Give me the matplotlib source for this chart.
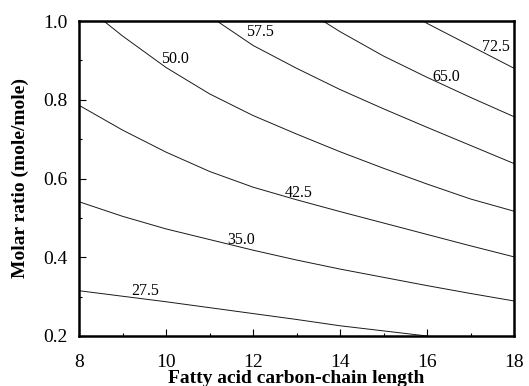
import matplotlib
matplotlib.use("Agg")
import matplotlib.pyplot as plt
from matplotlib.ticker import MultipleLocator

plt.rcParams['font.family'] = ['Liberation Serif', 'DejaVu Serif']

# Contour lines (x = carbon-chain length, y = molar ratio)
levels = ["27.5", "35.0", "42.5", "50.0", "57.5", "65.0", "72.5"]

line_2750_x = [8, 9, 10, 11, 12, 13, 14, 15, 16]
line_2750_y = [0.315, 0.301, 0.287, 0.272, 0.257, 0.242, 0.226, 0.213, 0.200]

line_3500_x = [8, 9, 10, 11, 12, 13, 14, 15, 16, 17, 18]
line_3500_y = [0.541, 0.504, 0.472, 0.445, 0.418, 0.393, 0.370, 0.349, 0.328, 0.308, 0.289]

line_4250_x = [8, 9, 10, 11, 12, 13, 14, 15, 16, 17, 18]
line_4250_y = [0.786, 0.723, 0.667, 0.618, 0.578, 0.546, 0.516, 0.487, 0.458, 0.429, 0.401]

line_5000_x = [8.57, 9, 10, 11, 12, 13, 14, 15, 16, 17, 18]
line_5000_y = [1.0, 0.962, 0.882, 0.815, 0.760, 0.713, 0.668, 0.626, 0.586, 0.548, 0.517]

line_5750_x = [11.17, 12, 13, 14, 15, 16, 17, 18]
line_5750_y = [1.0, 0.938, 0.880, 0.826, 0.777, 0.730, 0.684, 0.638]

line_6500_x = [13.61, 14, 15, 16, 17, 18]
line_6500_y = [1.0, 0.973, 0.911, 0.857, 0.806, 0.757]

line_7250_x = [15.91, 16, 17, 18]
line_7250_y = [1.0, 0.994, 0.937, 0.880]

# Label anchor positions (data coords)
label_x = [9.53, 11.72, 13.04, 10.21, 12.15, 16.45, 17.59]
label_y = [0.314, 0.445, 0.564, 0.904, 0.972, 0.859, 0.933]

x_ticks = [8, 10, 12, 14, 16, 18]
y_ticks = [0.2, 0.4, 0.6, 0.8, 1.0]

fig = plt.figure(figsize=(5.29, 3.86), dpi=100)
ax = fig.add_axes([79/529, 50/386, 435/529, 315/386])

lines = [(line_2750_x, line_2750_y), (line_3500_x, line_3500_y),
         (line_4250_x, line_4250_y), (line_5000_x, line_5000_y),
         (line_5750_x, line_5750_y), (line_6500_x, line_6500_y),
         (line_7250_x, line_7250_y)]
for xs, ys in lines:
    ax.plot(xs, ys, color='#1a1a1a', lw=0.7)

for lab, lx, ly in zip(levels, label_x, label_y):
    ax.text(lx, ly, lab, ha='center', va='center', fontsize=11.5, color='black')

ax.set_xlim(8, 18)
ax.set_ylim(0.2, 1.0)
ax.set_xticks(x_ticks)
ax.set_yticks(y_ticks)
ax.set_xticklabels([str(v) for v in x_ticks])
ax.set_yticklabels([f"{v:.1f}" for v in y_ticks])
ax.xaxis.set_minor_locator(MultipleLocator(1))
ax.yaxis.set_minor_locator(MultipleLocator(0.1))
ax.tick_params(which='major', direction='in', length=5, width=0.8, labelsize=14, top=False, right=False)
ax.tick_params(which='minor', direction='in', length=2.5, width=0.8, top=False, right=False)
ax.tick_params(axis='x', which='major', pad=13)
ax.tick_params(axis='y', which='major', pad=8)

for s in ax.spines.values():
    s.set_linewidth(1.8)

ax.set_xlabel("Fatty acid carbon-chain length", fontsize=14, fontweight='bold')
ax.xaxis.label.set_va('baseline')
ax.xaxis.set_label_coords(0.5, -0.149)
ax.set_ylabel("Molar ratio (mole/mole)", fontsize=14, fontweight='bold')
ax.yaxis.label.set_va('center')
ax.yaxis.set_label_coords(-0.134, 0.5)

fig.savefig("out.png", dpi=100)
